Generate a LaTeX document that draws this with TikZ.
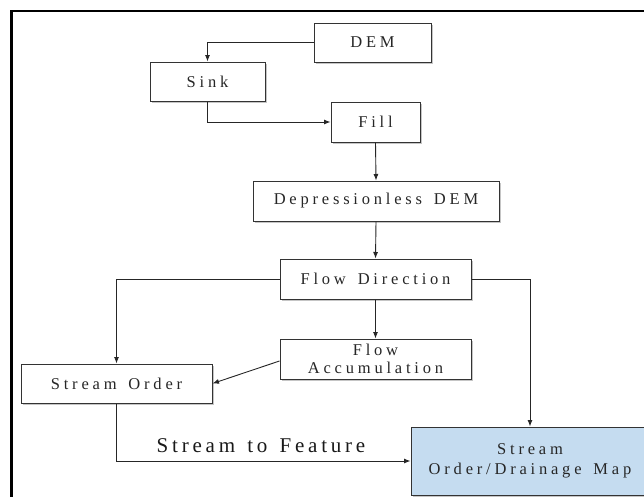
\documentclass[tikz,border=0pt]{standalone}
\usepackage{fontspec}
\setmainfont{Liberation Serif}
\newfontfamily\boxfont{Liberation Serif}[LetterSpace=23,WordSpace=1.5]
\newfontfamily\labfont{Liberation Serif}[LetterSpace=18,WordSpace=1.35]
\usetikzlibrary{arrows.meta,shadows}
\definecolor{mapblue}{RGB}{197,220,240}
\tikzset{
  stepbox/.style={draw=black!80, line width=1pt, fill=white, inner sep=0pt,
    align=center, font=\boxfont\fontsize{16.5}{18.5}\selectfont, text=black!85,
    drop shadow={shadow xshift=1.6pt, shadow yshift=-1.6pt, fill=black!45, opacity=.5}},
  conn/.style={draw=black!85, line width=0.9pt, -{Latex[length=6.5pt,width=5pt]}},
  frame/.style={draw=black, line width=2.6pt}
}
\begin{document}
\begin{tikzpicture}[x=1pt,y=-1pt]
\useasboundingbox (0,0) rectangle (644,496);
\fill[white] (0,0) rectangle (644,496);
\draw[frame] (11.5,11) rectangle (670,520);

\node[stepbox, minimum width=117pt, minimum height=39pt] (dem) at (372.5,42.5) {DEM};
\node[stepbox, minimum width=115pt, minimum height=39pt] (sink) at (207.5,81.5) {Sink};
\node[stepbox, minimum width=89pt, minimum height=40pt] (fill) at (375.5,122) {Fill};
\node[stepbox, minimum width=246pt, minimum height=40pt] (ddem) at (376,201) {Depressionless DEM};
\node[stepbox, minimum width=191pt, minimum height=40pt] (fd) at (375.5,279) {Flow Direction};
\node[stepbox, minimum width=191pt, minimum height=40pt] (fa) at (375.5,359) {Flow\\Accumulation};
\node[stepbox, minimum width=191pt, minimum height=39pt] (so) at (116.5,383.5) {Stream Order};
\node[stepbox, fill=mapblue, minimum width=238pt, minimum height=68pt,
      font=\boxfont\fontsize{16.5}{20}\selectfont] (map) at (530,461) {Stream\\Order/Drainage Map};

\draw[conn] (dem.west) -| (sink.north);
\draw[conn] (sink.south) |- (fill.west);
\draw[conn] (fill.south) -- (ddem.north);
\draw[conn] (ddem.south) -- (fd.north);
\draw[conn] (fd.west) -| (so.north);
\draw[conn] (fd.south) -- (fa.north);
\draw[conn] (fd.east) -| (map.north);
\draw[conn] ([yshift=-2pt]fa.west) -- (so.east);
\draw[conn] (so.south) |- (map.west);

\node[anchor=base, font=\labfont\fontsize{21}{24}\selectfont, text=black!90, inner sep=0pt] (stf) at (261,452) {Stream to Feature};
\end{tikzpicture}
\end{document}
